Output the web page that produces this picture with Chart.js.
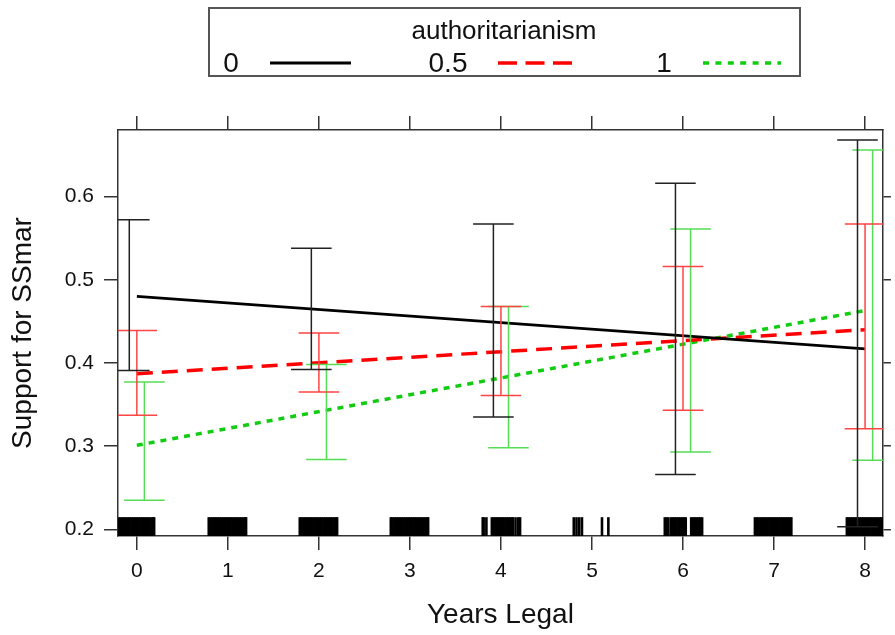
<!DOCTYPE html>
<html>
<head>
<meta charset="utf-8">
<script src="https://cdn.jsdelivr.net/npm/chart.js@4/dist/chart.umd.min.js"></script>
<style>
  html, body { margin: 0; padding: 0; background: #fff; }
  #wrap { width: 895px; height: 635px; position: relative; }
</style>
</head>
<body>
<div id="wrap"><canvas id="effectChart"></canvas></div>
<script>
// years legal (x positions of the fitted effects / error bars)
const years = [0, 2, 4, 6, 8];
const xTicks = [0, 1, 2, 3, 4, 5, 6, 7, 8];
const yTicks = [0.2, 0.3, 0.4, 0.5, 0.6];

const legendTitle = "authoritarianism";
const levels = ["0", "0.5", "1"];

// fitted lines (value at 0 and at 8 years)
const fit0 = [0.480, 0.417];
const fit05 = [0.387, 0.440];
const fit1 = [0.301, 0.463];

// confidence limits at each year, per authoritarianism level
const upper0 = [0.572, 0.538, 0.567, 0.616, 0.668];
const lower0 = [0.391, 0.392, 0.335, 0.266, 0.203];
const upper05 = [0.439, 0.436, 0.468, 0.516, 0.567];
const lower05 = [0.337, 0.365, 0.361, 0.343, 0.321];
const upper1 = [0.377, 0.398, 0.468, 0.561, 0.656];
const lower1 = [0.235, 0.284, 0.298, 0.293, 0.283];

// rug of observed (jittered) years legal
const rugX = [
  -0.2, -0.18, -0.16, -0.14, -0.12, -0.1, -0.08, -0.06, -0.04, -0.02, 0, 0.02, 0.04, 0.06, 0.08, 0.1, 0.12, 0.14, 0.16, 0.18, 0.19,
  0.79, 0.81, 0.83, 0.85, 0.87, 0.89, 0.91, 0.93, 0.95, 0.97, 0.99, 1.01, 1.03, 1.05, 1.07, 1.09, 1.11, 1.13, 1.15, 1.17, 1.19, 1.2,
  1.79, 1.81, 1.83, 1.85, 1.87, 1.89, 1.91, 1.93, 1.95, 1.97, 1.99, 2.01, 2.03, 2.05, 2.07, 2.09, 2.11, 2.13, 2.15, 2.17, 2.19, 2.2,
  2.79, 2.81, 2.83, 2.85, 2.87, 2.89, 2.91, 2.93, 2.95, 2.97, 2.99, 3.01, 3.03, 3.05, 3.07, 3.09, 3.11, 3.13, 3.15, 3.17, 3.19, 3.2,
  3.8, 3.81, 3.84, 3.9, 3.92, 3.94, 3.96, 3.98, 4.0, 4.02, 4.04, 4.06, 4.08, 4.1, 4.12, 4.13, 4.16, 4.19, 4.21,
  4.8, 4.83, 4.86, 4.89, 5.11, 5.18,
  5.8, 5.82, 5.84, 5.87, 5.89, 5.91, 5.93, 5.95, 5.97, 5.99, 6.01, 6.03, 6.09, 6.11, 6.13, 6.15, 6.17, 6.19, 6.21,
  6.79, 6.81, 6.83, 6.85, 6.87, 6.89, 6.91, 6.93, 6.95, 6.97, 6.99, 7.01, 7.03, 7.05, 7.07, 7.09, 7.11, 7.13, 7.15, 7.17, 7.19,
  7.8, 7.82, 7.84, 7.86, 7.88, 7.9, 7.92, 7.94, 7.96, 7.98, 8.0, 8.02, 8.04, 8.06, 8.08, 8.1, 8.12, 8.14, 8.16, 8.18, 8.19
];

const xMin = -0.207, xMax = 8.196;
const yMin = 0.192, yMax = 0.680;
const capHalf = 0.223;
const rugY = 0.2032;

function errorBars(upper, lower, offset) {
  const pts = [];
  years.forEach((yr, i) => {
    const x = yr + offset;
    pts.push({ x: x - capHalf, y: upper[i] }, { x: x + capHalf, y: upper[i] }, { x: x, y: null });
    pts.push({ x: x, y: upper[i] }, { x: x, y: lower[i] }, { x: x, y: null });
    pts.push({ x: x - capHalf, y: lower[i] }, { x: x + capHalf, y: lower[i] }, { x: x, y: null });
  });
  return pts;
}

const fitLine = (vals) => [{ x: years[0], y: vals[0] }, { x: years[years.length - 1], y: vals[1] }];

const datasets = [
  { label: "ci0", data: errorBars(upper0, lower0, -0.083), borderColor: "#222222", borderWidth: 1.5, pointRadius: 0, spanGaps: false },
  { label: "ci05", data: errorBars(upper05, lower05, 0), borderColor: "#ff4444", borderWidth: 1.5, pointRadius: 0, spanGaps: false },
  { label: "ci1", data: errorBars(upper1, lower1, 0.083), borderColor: "#55dd55", borderWidth: 1.5, pointRadius: 0, spanGaps: false },
  { label: levels[0], data: fitLine(fit0), borderColor: "#000000", borderWidth: 2.8, pointRadius: 0 },
  { label: levels[1], data: fitLine(fit05), borderColor: "#ff0000", borderWidth: 3.5, borderDash: [16, 9], pointRadius: 0 },
  { label: levels[2], data: fitLine(fit1), borderColor: "#11cc11", borderWidth: 3.5, borderDash: [6, 6], pointRadius: 0 },
  {
    label: "rug", data: rugX.map(v => ({ x: v, y: rugY })), showLine: false,
    pointStyle: "line", rotation: 90, pointRadius: 9.5, pointBorderWidth: 2.6, pointBorderColor: "#000", pointBackgroundColor: "#000"
  }
];

// legend keys: solid, dashed, dotted (drawn in the legend box)
const legendDash = [[], [19, 8.5], [6, 6.4]];

const legendPlugin = {
  id: "effectLegend",
  afterDraw(chart) {
    const ctx = chart.ctx;
    ctx.save();
    ctx.strokeStyle = "#555";
    ctx.lineWidth = 2;
    ctx.strokeRect(209, 8, 591, 68);
    ctx.fillStyle = "#111";
    ctx.textAlign = "center";
    ctx.textBaseline = "middle";
    ctx.font = "26px 'Liberation Sans', Arial, sans-serif";
    ctx.fillText(legendTitle, 504, 32);
    ctx.font = "28px 'Liberation Sans', Arial, sans-serif";
    const textX = [231, 448, 664];
    const seg = [[270, 351], [498, 572], [703, 781]];
    levels.forEach((lab, i) => {
      const ds = chart.data.datasets[3 + i];
      ctx.fillStyle = "#111";
      ctx.fillText(lab, textX[i], 64);
      ctx.strokeStyle = ds.borderColor;
      ctx.lineWidth = ds.borderWidth;
      ctx.setLineDash(legendDash[i]);
      ctx.beginPath();
      ctx.moveTo(seg[i][0], 63);
      ctx.lineTo(seg[i][1], 63);
      ctx.stroke();
    });
    ctx.restore();
  }
};

const axisFont = { family: "'Liberation Sans', Arial, sans-serif", size: 21 };
const titleFont = { family: "'Liberation Sans', Arial, sans-serif", size: 28 };
const gridOpts = { drawOnChartArea: false, drawTicks: true, tickLength: 14, color: "#333", lineWidth: 1.5 };
const borderOpts = { display: true, color: "#333", width: 1.5 };

const config = {
  type: "line",
  data: { datasets: datasets },
  plugins: [legendPlugin],
  options: {
    responsive: true,
    maintainAspectRatio: false,
    animation: false,
    layout: { padding: 0 },
    plugins: { legend: { display: false }, tooltip: { enabled: false } },
    scales: {
      x: {
        type: "linear", position: "bottom", min: xMin, max: xMax,
        afterBuildTicks: (s) => { s.ticks = xTicks.map(v => ({ value: v })); },
        afterFit: (s) => { s.height = 99; },
        ticks: { font: axisFont, color: "#111", padding: 9, maxRotation: 0, callback: (v) => String(v) },
        grid: gridOpts, border: borderOpts,
        title: { display: true, text: "Years Legal", font: titleFont, color: "#111", padding: { top: 4, bottom: 3 } }
      },
      x2: {
        type: "linear", position: "top", min: xMin, max: xMax,
        afterBuildTicks: (s) => { s.ticks = xTicks.map(v => ({ value: v })); },
        afterFit: (s) => { s.height = 130; },
        ticks: { display: false },
        grid: gridOpts, border: borderOpts
      },
      y: {
        type: "linear", position: "left", min: yMin, max: yMax,
        afterBuildTicks: (s) => { s.ticks = yTicks.map(v => ({ value: v })); },
        afterFit: (s) => { s.width = 118; },
        ticks: { font: axisFont, color: "#111", padding: 10, callback: (v) => v.toFixed(1) },
        grid: gridOpts, border: borderOpts,
        title: { display: true, text: "Support for SSmar", font: titleFont, color: "#111", padding: { top: 6, bottom: 4 } }
      },
      y2: {
        type: "linear", position: "right", min: yMin, max: yMax,
        afterBuildTicks: (s) => { s.ticks = yTicks.map(v => ({ value: v })); },
        afterFit: (s) => { s.width = 6; },
        ticks: { display: false },
        grid: Object.assign({}, gridOpts, { tickLength: 8 }), border: borderOpts
      }
    }
  }
};

const effectChart = new Chart(document.getElementById("effectChart"), config);
</script>
</body>
</html>
